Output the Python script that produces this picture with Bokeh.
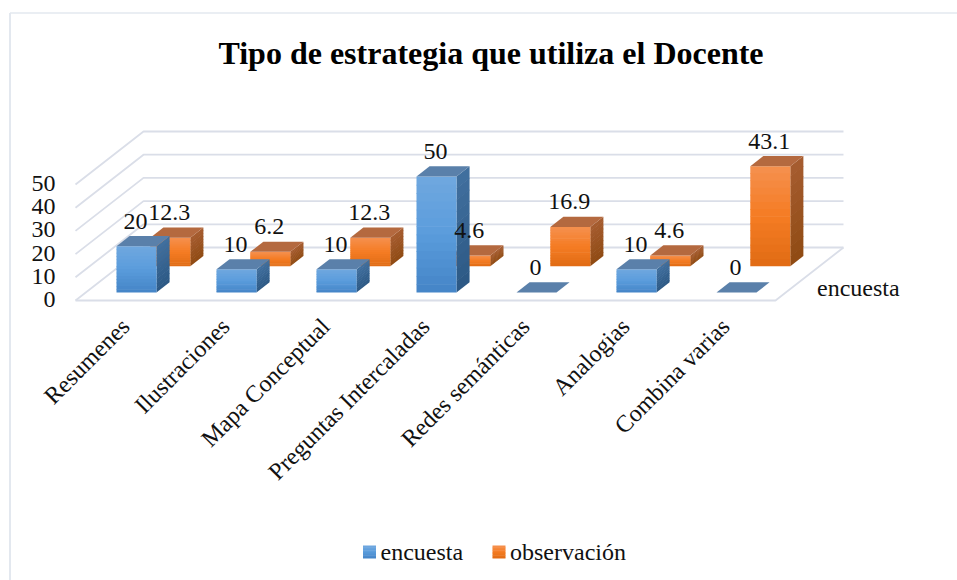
from bokeh.plotting import figure
from bokeh.models import ColumnDataSource
from bokeh.core.properties import value
from bokeh.embed import file_html
from bokeh.resources import INLINE
import math

# ---- data ----
categories = ["Resumenes", "Ilustraciones", "Mapa Conceptual", "Preguntas Intercaladas",
              "Redes semánticas", "Analogias", "Combina varias"]
encuesta = [20, 10, 10, 50, 0, 10, 0]
observacion = [12.3, 6.2, 12.3, 4.6, 16.9, 4.6, 43.1]
value_ticks = [0, 10, 20, 30, 40, 50]
title = "Tipo de estrategia que utiliza el Docente"
series_names = ["encuesta", "observación"]
depth_label = "encuesta"

# ---- projection of the chart box onto the page ----
X0, Y0 = 75.0, 300.0      # front-left floor corner
CAT_W = 100.0             # width of a category along x
DX, DY = 68.0, 53.0       # screen shift across the whole depth
UNIT = 2.32               # pixels per value unit
BAR_X, BAR_W = 30.8, 40.0
BAR_D = 0.192
ROW_D = [0.15, 0.647]
FONT = value("Liberation Serif")
FS = "24px"
TXT = "#111111"
GRID = "#dadee8"


def proj(x, d, v):
    return X0 + x * CAT_W + d * DX, Y0 - d * DY - v * UNIT


def mix(a, b, t):
    ca = [int(a[i:i + 2], 16) for i in (1, 3, 5)]
    cb = [int(b[i:i + 2], 16) for i in (1, 3, 5)]
    return "#%02x%02x%02x" % tuple(round(p + (q - p) * t) for p, q in zip(ca, cb))


def ramp(stops, t):
    s = t * (len(stops) - 1)
    i = min(int(s), len(stops) - 2)
    return mix(stops[i], stops[i + 1], s - i)


N_CATS = len(categories)
p = figure(width=957, height=580, x_range=(0, 957), y_range=(580, 0),
           output_backend="svg", toolbar_location=None, min_border=0,
           x_axis_location=None, y_axis_location=None,
           outline_line_color=None, background_fill_color="white", border_fill_color="white")
p.grid.visible = False

# chart border
p.line([9.5, 9.5], [580, 12.5], line_color="#e3e8ef", line_width=2)
p.line([9.5, 957], [12.5, 12.5], line_color="#e3e8ef", line_width=1.5)

# gridlines: left wall and back wall
for t in value_ticks:
    a, b, c = proj(0, 0, t), proj(0, 1, t), proj(N_CATS, 1, t)
    p.line([a[0], b[0], c[0]], [a[1], b[1], c[1]], line_color=GRID, line_width=1.8)
# floor
fl = [proj(0, 0, 0), proj(N_CATS, 0, 0), proj(N_CATS, 1, 0)]
p.line([q[0] for q in fl], [q[1] for q in fl], line_color=GRID, line_width=1.8)

STYLES = [
    dict(front=["#70a8df", "#5a9cdc", "#4484c6"], side=["#41709f", "#2c5884"], top="#5a80aa"),
    dict(front=["#f5904f", "#f57c23", "#e06b14"], side=["#a65d31", "#8f4a12"], top="#b4693f"),
]
xs, ys, fills = [], [], []
OVERLAP = 0.6 / UNIT


def add_face(p1, p2, height, stops, n=14):
    """p1, p2: bottom points in (x, d); vertical face split in strips for the gradient."""
    for k in range(n):
        v_hi = height * (1 - k / n)
        v_lo = max(0, height * (1 - (k + 1) / n) - OVERLAP)
        pts = [proj(*p1, v_hi), proj(*p2, v_hi), proj(*p2, v_lo), proj(*p1, v_lo)]
        xs.append([q[0] for q in pts])
        ys.append([q[1] for q in pts])
        fills.append(ramp(stops, (k + 0.5) / n))


label_rows = {"x": [], "y": [], "t": []}
for row in (1, 0):
    vals = [encuesta, observacion][row]
    st = STYLES[row]
    d0 = ROW_D[row]
    d1 = d0 + BAR_D
    for i, v in enumerate(vals):
        x0 = i + BAR_X / CAT_W
        x1 = x0 + BAR_W / CAT_W
        if v > 0:
            add_face((x1, d0), (x1, d1), v, st["side"], n=10)
            add_face((x0, d0), (x1, d0), v, st["front"])
        pts = [proj(x0, d0, v), proj(x1, d0, v), proj(x1, d1, v), proj(x0, d1, v)]
        xs.append([q[0] for q in pts])
        ys.append([q[1] for q in pts])
        fills.append(st["top"])
        cx, cy = proj((x0 + x1) / 2, (d0 + d1) / 2, v)
        label_rows["x"].append(cx)
        label_rows["y"].append(cy)
        label_rows["t"].append(str(v))

p.patches(xs="xs", ys="ys", fill_color="c", line_color=None,
          source=ColumnDataSource(dict(xs=xs, ys=ys, c=fills)))

# data labels
p.text("x", "y", text="t", source=ColumnDataSource(label_rows), text_font=FONT, text_font_size=FS,
       text_color=TXT, text_align="center", text_baseline="middle", x_offset=-7.5, y_offset=-20)

# value axis labels
tx = [proj(0, 0, t)[0] - 20 for t in value_ticks]
ty = [proj(0, 0, t)[1] - 1 for t in value_ticks]
p.text(tx, ty, text=[str(t) for t in value_ticks], text_font=FONT, text_font_size=FS, text_color=TXT,
       text_align="right", text_baseline="middle")

# category labels
cx = [proj(i + 0.5, 0, 0)[0] for i in range(N_CATS)]
cy = [proj(i + 0.5, 0, 0)[1] + 22 for i in range(N_CATS)]
p.text(cx, cy, text=categories, angle=math.radians(45), text_font=FONT, text_font_size=FS, text_color=TXT,
       text_align="right", text_baseline="middle")

# depth axis label
dp = proj(N_CATS, 0.25, 0)
p.text([dp[0] + 24.5], [dp[1] + 1], text=[depth_label], text_font=FONT, text_font_size=FS, text_color=TXT,
       text_align="left", text_baseline="middle")

# title
p.text([490.5], [52.5], text=[title], text_font=FONT, text_font_size="32px", text_font_style="bold",
       text_color="#000000", text_align="center", text_baseline="middle")

# legend
LEG_Y = 551.5
for sx, tx0, st, name in zip([362.5, 492], [380, 509.5], STYLES, series_names):
    n = 8
    for k in range(n):
        y0 = LEG_Y - 6.5 + 13 * k / n
        p.quad(left=sx, right=sx + 13, top=y0, bottom=y0 + 13 / n + (0.4 if k < n - 1 else 0),
               fill_color=ramp(st["front"], (k + .5) / n), line_color=None)
    p.text([tx0], [LEG_Y], text=[name], text_font=FONT, text_font_size=FS, text_color=TXT,
           text_align="left", text_baseline="middle")

open("out.html", "w").write(file_html(p, INLINE))
